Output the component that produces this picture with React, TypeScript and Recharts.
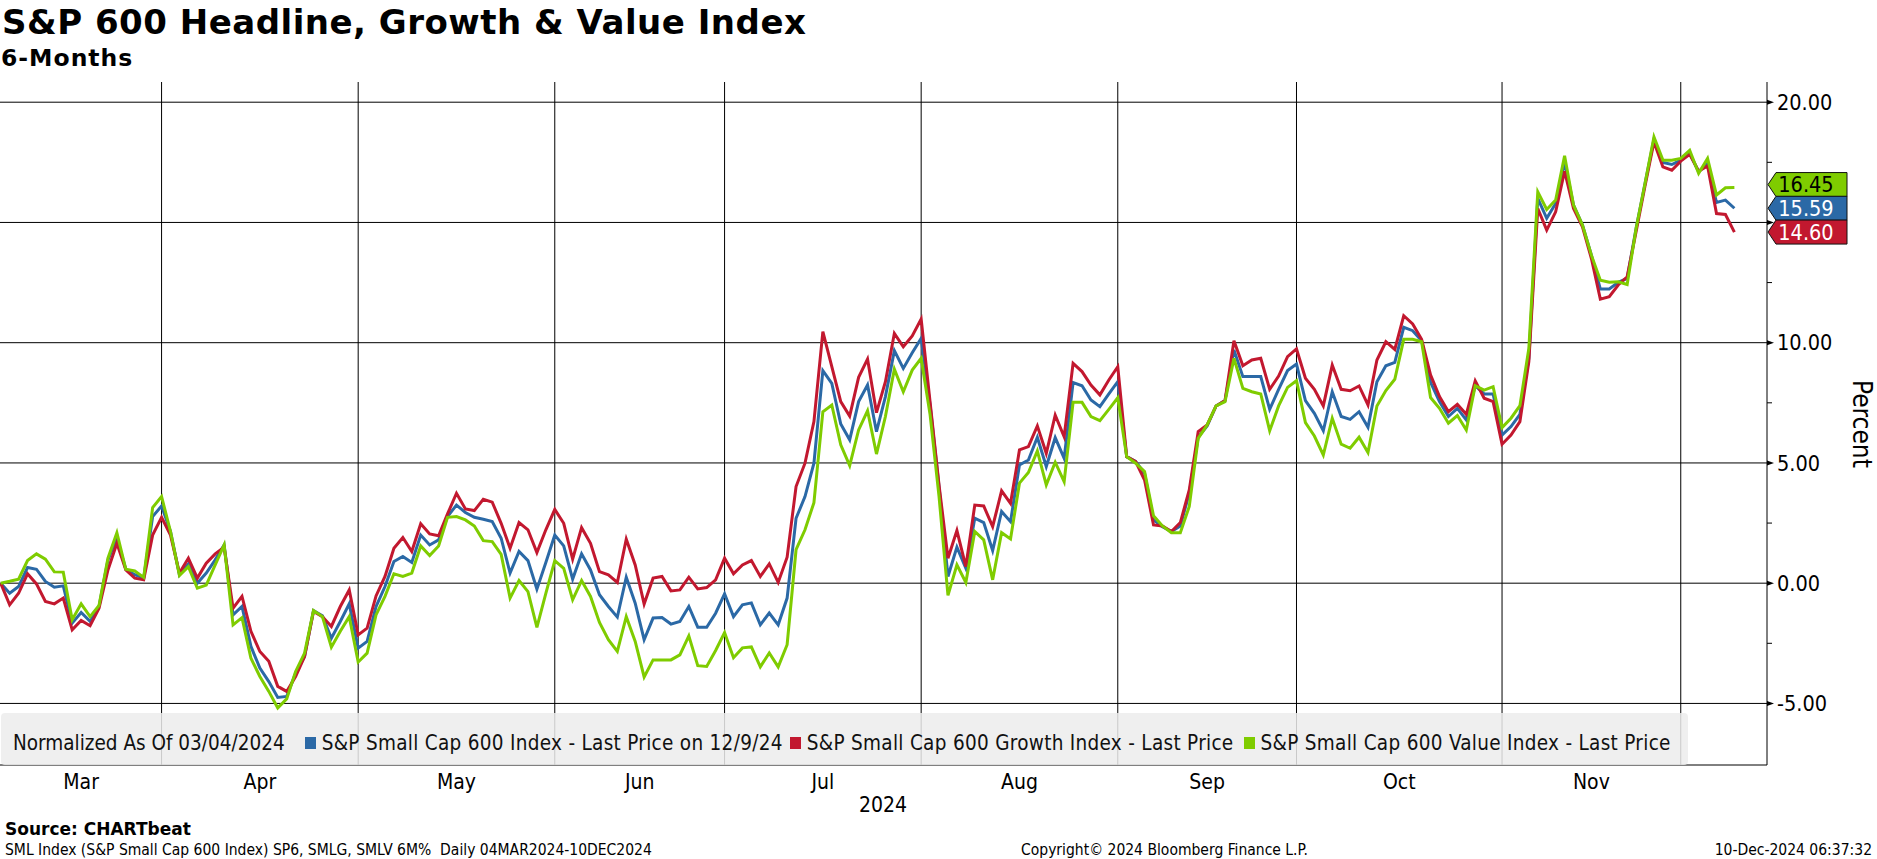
import React from 'react';
import { LineChart, Line, XAxis, YAxis, CartesianGrid, ReferenceDot } from 'recharts';

// trading days from 04 Mar 2024 (index 0) to 09 Dec 2024 (index 194), % change since 03/04/2024
const headline = [
  0, -0.42, -0.14, 0.65, 0.58, 0.07, -0.17, -0.11, -1.66, -1.22, -1.59, -0.97, 0.97, 1.87, 0.58, 0.35, 0.21, 2.77, 3.21, 2.15,
  0.35, 0.8, 0, 0.42, 0.97, 1.59, -1.32, -0.97, -2.63, -3.53, -4.09, -4.75, -4.71, -3.74, -3.05, -1.14, -1.36, -2.29, -1.59, -0.86,
  -2.7, -2.42, -0.97, -0.14, 0.9, 1.11, 0.86, 2.0, 1.59, 1.8, 2.77, 3.25, 2.94, 2.74, 2.66, 2.56, 1.87, 0.42, 1.32, 0.94,
  -0.25, 0.86, 2.0, 1.55, 0.17, 1.22, 0.55, -0.48, -0.97, -1.41, 0.25, -0.83, -2.35, -1.45, -1.43, -1.7, -1.59, -0.97, -1.83, -1.83,
  -1.25, -0.44, -1.39, -0.9, -0.82, -1.73, -1.24, -1.73, -0.62, 2.7, 3.6, 4.99, 8.84, 8.31, 6.62, 5.96, 7.55, 8.24, 6.3, 7.76,
  9.67, 8.93, 9.58, 10.18, 7.4, 4.0, 0.28, 1.5, 0.62, 2.7, 2.52, 1.36, 2.98, 2.56, 4.92, 5.12, 6.07, 4.85, 6.05, 5.19,
  8.34, 8.21, 7.62, 7.34, 7.87, 8.38, 5.26, 5.06, 4.57, 2.63, 2.35, 2.15, 2.38, 3.74, 6.07, 6.54, 7.37, 7.59, 9.7, 8.59,
  8.59, 8.59, 7.23, 8.06, 8.84, 9.11, 7.59, 7.06, 6.34, 7.96, 6.93, 6.81, 7.13, 6.48, 8.38, 9.04, 9.18, 10.64, 10.5, 10.08,
  8.35, 7.55, 6.93, 7.27, 6.79, 8.21, 7.87, 7.87, 6.16, 6.51, 7.02, 9.35, 16.0, 15.17, 15.79, 17.52, 15.72, 14.89, 13.64, 12.23,
  12.23, 12.51, 12.67, 14.75, 16.62, 18.46, 17.49, 17.41, 17.59, 17.87, 17.11, 17.45, 15.83, 15.93, 15.59,
];

const growth = [
  0, -0.9, -0.42, 0.39, -0.03, -0.76, -0.86, -0.62, -1.94, -1.55, -1.77, -1.04, 0.55, 1.66, 0.55, 0.21, 0.14, 2.0, 2.74, 2.0,
  0.42, 1.04, 0.21, 0.83, 1.22, 1.5, -1.04, -0.55, -2.0, -2.84, -3.25, -4.29, -4.5, -3.88, -3.05, -1.18, -1.39, -1.8, -0.97, -0.28,
  -2.15, -1.87, -0.53, 0.28, 1.45, 1.9, 1.32, 2.47, 2.05, 1.97, 2.88, 3.74, 3.09, 3.02, 3.49, 3.37, 2.49, 1.45, 2.52, 2.22,
  1.27, 2.22, 3.07, 2.49, 1.0, 2.31, 1.66, 0.48, 0.35, 0.03, 1.83, 0.76, -0.87, 0.21, 0.28, -0.32, -0.28, 0.25, -0.24, -0.18,
  0.14, 1.04, 0.39, 0.76, 0.94, 0.28, 0.8, 0.03, 1.08, 4.02, 4.99, 6.72, 10.46, 9.0, 7.55, 6.95, 8.56, 9.32, 7.09, 8.38,
  10.39, 9.83, 10.28, 10.98, 7.53, 4.08, 1.04, 2.19, 0.69, 3.25, 3.21, 2.35, 3.84, 3.32, 5.54, 5.68, 6.54, 5.4, 6.99, 6.09,
  9.14, 8.8, 8.24, 7.83, 8.45, 9.0, 5.26, 5.06, 4.29, 2.42, 2.38, 2.15, 2.52, 3.88, 6.3, 6.58, 7.37, 7.59, 10.08, 9.04,
  9.28, 9.35, 8.06, 8.61, 9.42, 9.74, 8.52, 8.06, 7.37, 9.07, 8.06, 8.0, 8.2, 7.41, 9.28, 10.04, 9.72, 11.12, 10.78, 10.14,
  8.66, 7.76, 7.13, 7.44, 7.02, 8.41, 7.69, 7.55, 5.78, 6.16, 6.72, 9.21, 15.58, 14.68, 15.44, 17.13, 15.58, 14.82, 13.5, 11.81,
  11.91, 12.4, 12.74, 14.61, 16.52, 18.35, 17.31, 17.17, 17.55, 17.83, 17.13, 17.35, 15.37, 15.33, 14.6,
];

const value = [
  0, 0.08, 0.17, 0.94, 1.22, 1.0, 0.47, 0.46, -1.52, -0.86, -1.39, -0.93, 1.04, 2.1, 0.58, 0.51, 0.24, 3.14, 3.6, 2.15,
  0.32, 0.69, -0.21, -0.08, 0.76, 1.59, -1.73, -1.43, -3.12, -3.88, -4.5, -5.19, -4.81, -3.67, -2.91, -1.14, -1.39, -2.66, -2.0, -1.39,
  -3.28, -2.91, -1.32, -0.55, 0.39, 0.28, 0.42, 1.55, 1.15, 1.55, 2.74, 2.77, 2.63, 2.38, 1.77, 1.73, 1.2, -0.62, 0.11, -0.35,
  -1.84, -0.42, 0.94, 0.62, -0.69, 0.11, -0.55, -1.63, -2.35, -2.84, -1.39, -2.42, -3.9, -3.19, -3.19, -3.19, -2.98, -2.19, -3.43, -3.46,
  -2.8, -2.05, -3.1, -2.69, -2.65, -3.48, -2.9, -3.48, -2.56, 1.39, 2.22, 3.35, 7.13, 7.41, 5.75, 4.89, 6.37, 7.17, 5.37, 6.93,
  8.9, 7.96, 8.86, 9.35, 7.0, 3.6, -0.51, 0.76, 0.03, 2.15, 1.8, 0.14, 2.1, 1.84, 4.16, 4.6, 5.5, 4.09, 5.03, 4.22,
  7.52, 7.52, 6.93, 6.76, 7.23, 7.71, 5.26, 4.99, 4.64, 2.8, 2.38, 2.1, 2.1, 3.19, 6.02, 6.58, 7.37, 7.55, 9.35, 8.1,
  7.96, 7.87, 6.34, 7.37, 8.14, 8.42, 6.68, 6.12, 5.33, 6.86, 5.78, 5.61, 6.07, 5.43, 7.37, 8.01, 8.48, 10.14, 10.14, 10.04,
  7.72, 7.27, 6.65, 6.97, 6.37, 8.21, 8.03, 8.17, 6.47, 6.86, 7.38, 9.76, 16.27, 15.54, 15.93, 17.77, 15.72, 14.89, 13.64, 12.6,
  12.51, 12.53, 12.42, 14.75, 16.62, 18.56, 17.59, 17.59, 17.66, 18.0, 17.04, 17.66, 16.14, 16.44, 16.45,
];

const monthLabels = ['Mar', 'Apr', 'May', 'Jun', 'Jul', 'Aug', 'Sep', 'Oct', 'Nov'];
// index of the last trading day of each month (grid lines sit there)
const monthEnds = [18, 40, 62, 81, 103, 125, 145, 168, 188];
const yMajor = [-5, 0, 5, 10, 15, 20];
const yTicks = [-5, -2.5, 0, 2.5, 5, 7.5, 10, 12.5, 15, 17.5, 20];

const BLUE = '#2b69a6';
const RED = '#c2182f';
const GREEN = '#7fcc00';
const FONT = '"DejaVu Sans Condensed", "Liberation Sans", sans-serif';
const BOLD = '"DejaVu Sans", sans-serif';

const monthMids = monthEnds.map((e, i) => ((i === 0 ? 0 : monthEnds[i - 1]) + e) / 2);

const data = headline.map((v, k) => ({ k, headline: v, growth: growth[k], value: value[k] }));

const MonthTick = (props: any) => {
  const { x, y, index } = props;
  return (
    <text x={x} y={y + 24} textAnchor="middle" fontSize={21} fontFamily={FONT} fill="#000">
      {monthLabels[index]}
    </text>
  );
};

const ValueTick = (props: any) => {
  const { x, y, payload } = props;
  const v = payload.value;
  const major = v % 5 === 0;
  return (
    <g>
      {major ? (
        <polygon points={`${x},${y - 2.5} ${x + 7},${y} ${x},${y + 2.5}`} fill="#000" />
      ) : (
        <line x1={x} x2={x + 5} y1={y} y2={y} stroke="#000" />
      )}
      {major && v !== 15 && (
        <text x={x + 10} y={y} dy="0.36em" fontSize={21.5} fontFamily={FONT} fill="#000">
          {v.toFixed(2)}
        </text>
      )}
    </g>
  );
};

const badge = (fill: string, textColor: string, label: string, nudge: number) => (props: any) => {
  const { cx, cy } = props;
  const c = cy + nudge;
  const h = 12;
  return (
    <g>
      <polygon
        points={`${cx + 1},${c} ${cx + 9},${c - h} ${cx + 80},${c - h} ${cx + 80},${c + h} ${cx + 9},${c + h}`}
        fill={fill}
        stroke="#111"
        strokeWidth={1}
      />
      <text x={cx + 39} y={c} dy="0.36em" textAnchor="middle" fontSize={21.5} fontFamily={FONT} fill={textColor}>
        {label}
      </text>
    </g>
  );
};

const last = (arr: number[]) => arr[arr.length - 1];
const X_MAX = 197.65;

const legendItems = [
  { color: BLUE, text: 'S&P Small Cap 600 Index - Last Price on 12/9/24', gap: 20 },
  { color: RED, text: 'S&P Small Cap 600 Growth Index - Last Price', gap: 7 },
  { color: GREEN, text: 'S&P Small Cap 600 Value Index - Last Price', gap: 10 },
];

export default function App() {
  return (
    <div style={{ position: 'relative', width: 1877, height: 859, background: '#fff', overflow: 'hidden', fontFamily: FONT }}>
      <style>{`body{margin:0}`}</style>
      <div style={{ position: 'absolute', left: 2, top: 4, fontFamily: BOLD, fontWeight: 'bold', fontSize: 34, letterSpacing: 0.5, color: '#000', lineHeight: 1.1 }}>
        S&amp;P 600 Headline, Growth &amp; Value Index
      </div>
      <div style={{ position: 'absolute', left: 1, top: 46, fontFamily: BOLD, fontWeight: 'bold', fontSize: 23.5, letterSpacing: 1, color: '#000', lineHeight: 1.1 }}>
        6-Months
      </div>

      <div style={{ position: 'absolute', left: 0, top: 0 }}>
        <LineChart width={1877} height={800} data={data} margin={{ top: 82, right: 0, bottom: 0, left: 0 }}>
          <CartesianGrid
            stroke="#000"
            strokeOpacity={1}
            horizontalValues={yMajor}
            verticalValues={monthEnds}
          />
          <XAxis
            type="number"
            dataKey="k"
            domain={[-0.08, X_MAX]}
            allowDataOverflow
            ticks={monthMids}
            interval={0}
            tick={MonthTick}
            tickLine={false}
            tickSize={0}
            tickMargin={0}
            axisLine={{ stroke: '#000' }}
            height={35}
          />
          <YAxis
            orientation="right"
            domain={[-7.56, 20.84]}
            allowDataOverflow
            ticks={yTicks}
            interval={0}
            tick={ValueTick}
            tickLine={false}
            tickSize={0}
            tickMargin={0}
            axisLine={{ stroke: '#000' }}
            width={110}
          />
          <Line type="linear" dataKey="headline" stroke={BLUE} strokeWidth={3} dot={false} isAnimationActive={false} />
          <Line type="linear" dataKey="growth" stroke={RED} strokeWidth={3} dot={false} isAnimationActive={false} />
          <Line type="linear" dataKey="value" stroke={GREEN} strokeWidth={3} dot={false} isAnimationActive={false} />
          <ReferenceDot x={X_MAX} y={last(value)} r={1} shape={badge(GREEN, '#000', last(value).toFixed(2), -3)} />
          <ReferenceDot x={X_MAX} y={last(headline)} r={1} shape={badge(BLUE, '#fff', last(headline).toFixed(2), 0)} />
          <ReferenceDot x={X_MAX} y={last(growth)} r={1} shape={badge(RED, '#fff', last(growth).toFixed(2), 0)} />
        </LineChart>
      </div>

      {/* legend box */}
      <div
        style={{
          position: 'absolute', left: 1, top: 713, width: 1687, height: 52, borderRadius: 4,
          background: 'rgba(236,236,236,0.85)',
        }}
      >
        <div style={{ position: 'absolute', left: 12, top: 20, display: 'flex', alignItems: 'center', fontSize: 20.5, lineHeight: 1, color: '#111', whiteSpace: 'nowrap' }}>
          <span>Normalized As Of 03/04/2024</span>
          {legendItems.map((it) => (
            <span key={it.text} style={{ display: 'flex', alignItems: 'center', marginLeft: it.gap }}>
              <span style={{ display: 'inline-block', width: 11, height: 12, background: it.color, marginRight: 6 }} />
              <span style={{ letterSpacing: 0.3 }}>{it.text}</span>
            </span>
          ))}
        </div>
      </div>

      <div style={{ position: 'absolute', left: 883, top: 795, transform: 'translateX(-50%)', fontSize: 21, lineHeight: 1 }}>2024</div>
      <div style={{ position: 'absolute', left: 1849, top: 380, writingMode: 'vertical-rl', fontSize: 26, lineHeight: 1 }}>Percent</div>

      <div style={{ position: 'absolute', left: 5, top: 821, fontFamily: BOLD, fontWeight: 'bold', fontSize: 17, lineHeight: 1 }}>Source: CHARTbeat</div>
      <div style={{ position: 'absolute', left: 5, top: 843, fontSize: 15.5, lineHeight: 1 }}>
        SML Index (S&amp;P Small Cap 600 Index) SP6, SMLG, SMLV 6M%&nbsp;&nbsp;Daily 04MAR2024-10DEC2024
      </div>
      <div style={{ position: 'absolute', left: 1021, top: 843, fontSize: 15.5, lineHeight: 1 }}>Copyright© 2024 Bloomberg Finance L.P.</div>
      <div style={{ position: 'absolute', right: 5, top: 843, fontSize: 15.5, lineHeight: 1 }}>10-Dec-2024 06:37:32</div>
    </div>
  );
}
